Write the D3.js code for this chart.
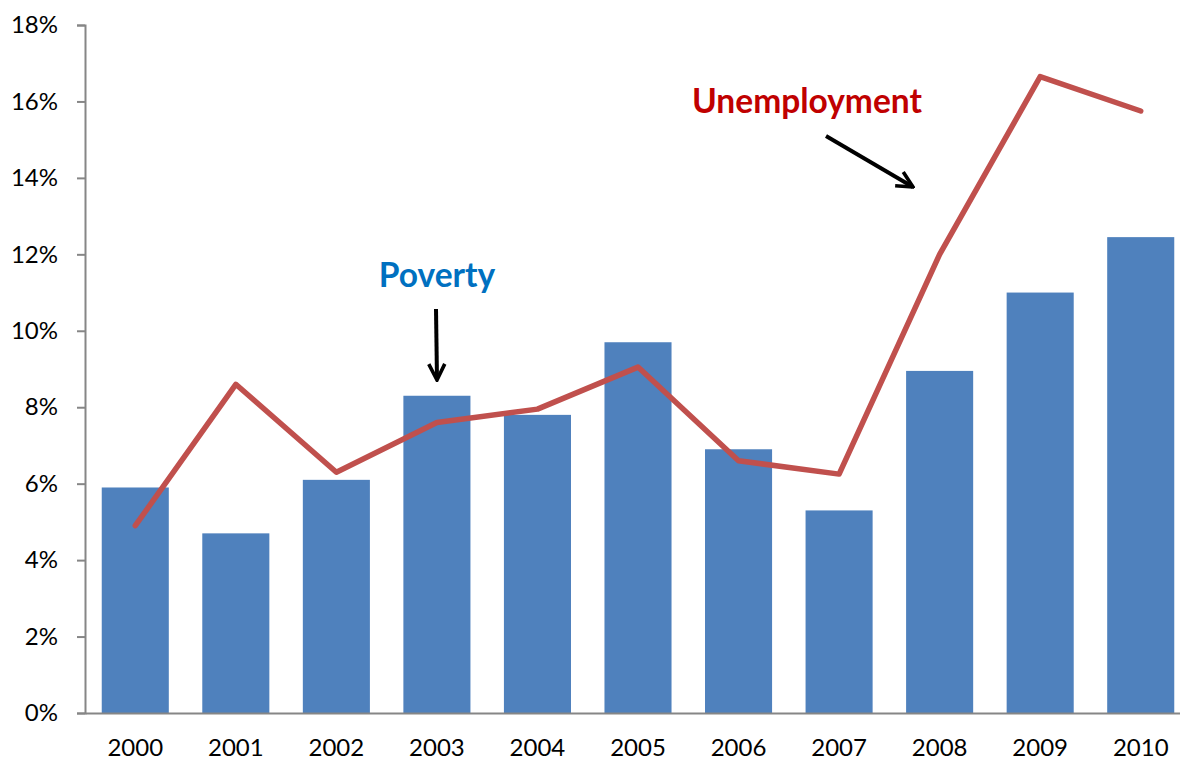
<!DOCTYPE html>
<html><head><meta charset="utf-8">
<script src="https://cdn.jsdelivr.net/npm/d3@7"></script>
<style>body{margin:0;background:#fff}svg{display:block}</style>
</head><body>
<svg id="c" width="1180" height="761"></svg>
<script>
const years = ["2000","2001","2002","2003","2004","2005","2006","2007","2008","2009","2010"];
const poverty = [5.9, 4.7, 6.1, 8.3, 7.8, 9.7, 6.9, 5.3, 8.95, 11.0, 12.45];
const unemployment = [4.9, 8.6, 6.3, 7.6, 7.95, 9.05, 6.6, 6.25, 12.0, 16.65, 15.75];
const yTicks = [0, 2, 4, 6, 8, 10, 12, 14, 16, 18];

const svg = d3.select("#c");
const font = "Lato, 'Open Sans', sans-serif";
const x = d3.scaleBand().domain(years).range([85, 1191]).paddingInner(0.333).paddingOuter(0.1665);
const y = d3.scaleLinear().domain([0, 18]).range([713, 25]);

svg.append("defs").append("marker").attr("id","ah").attr("viewBox","0 0 10 10")
  .attr("refX",9).attr("refY",5).attr("markerWidth",5).attr("markerHeight",5).attr("orient","auto")
  .append("path").attr("d","M1,1 L9,5 L1,9").attr("fill","none").attr("stroke","#000").attr("stroke-width",1.8);

svg.append("g").selectAll("rect").data(years).join("rect")
  .attr("x", d => x(d)).attr("width", x.bandwidth())
  .attr("y", (d,i) => y(poverty[i])).attr("height", (d,i) => y(0) - y(poverty[i]))
  .attr("fill", "#4F81BD");

const yAxis = svg.append("g").attr("transform","translate(85,0)")
  .call(d3.axisLeft(y).tickValues(yTicks).tickFormat(d => d + "%").tickSize(8).tickPadding(19));
yAxis.select(".domain").attr("stroke","#868686").attr("stroke-width",2);
yAxis.selectAll(".tick line").attr("stroke","#868686").attr("stroke-width",2);
yAxis.selectAll("text").attr("font-family",font).attr("font-size",24).attr("fill","#000");

const xAxis = svg.append("g").attr("transform","translate(0,713)")
  .call(d3.axisBottom(x).tickSize(0).tickPadding(26));
xAxis.select(".domain").attr("stroke","#868686").attr("stroke-width",2);
xAxis.selectAll("text").attr("font-family",font).attr("font-size",24).attr("fill","#000");

const line = d3.line().x((d,i) => x(years[i]) + x.bandwidth()/2).y(d => y(d));
svg.append("path").datum(unemployment).attr("d", line)
  .attr("fill","none").attr("stroke","#C0504D").attr("stroke-width",5.5)
  .attr("stroke-linejoin","round").attr("stroke-linecap","round");

svg.append("text").attr("x",437).attr("y",287).attr("text-anchor","middle")
  .attr("font-family",font).attr("font-weight","bold").attr("font-size",33.5).attr("fill","#0070C0").text("Poverty");
svg.append("text").attr("x",807).attr("y",113).attr("text-anchor","middle")
  .attr("font-family",font).attr("font-weight","bold").attr("font-size",33.5).attr("fill","#C00000").text("Unemployment");

svg.append("line").attr("x1",436).attr("y1",309).attr("x2",437).attr("y2",380)
  .attr("stroke","#000").attr("stroke-width",4).attr("marker-end","url(#ah)");
svg.append("line").attr("x1",826).attr("y1",136).attr("x2",913).attr("y2",187)
  .attr("stroke","#000").attr("stroke-width",4).attr("marker-end","url(#ah)");
</script>
</body></html>
